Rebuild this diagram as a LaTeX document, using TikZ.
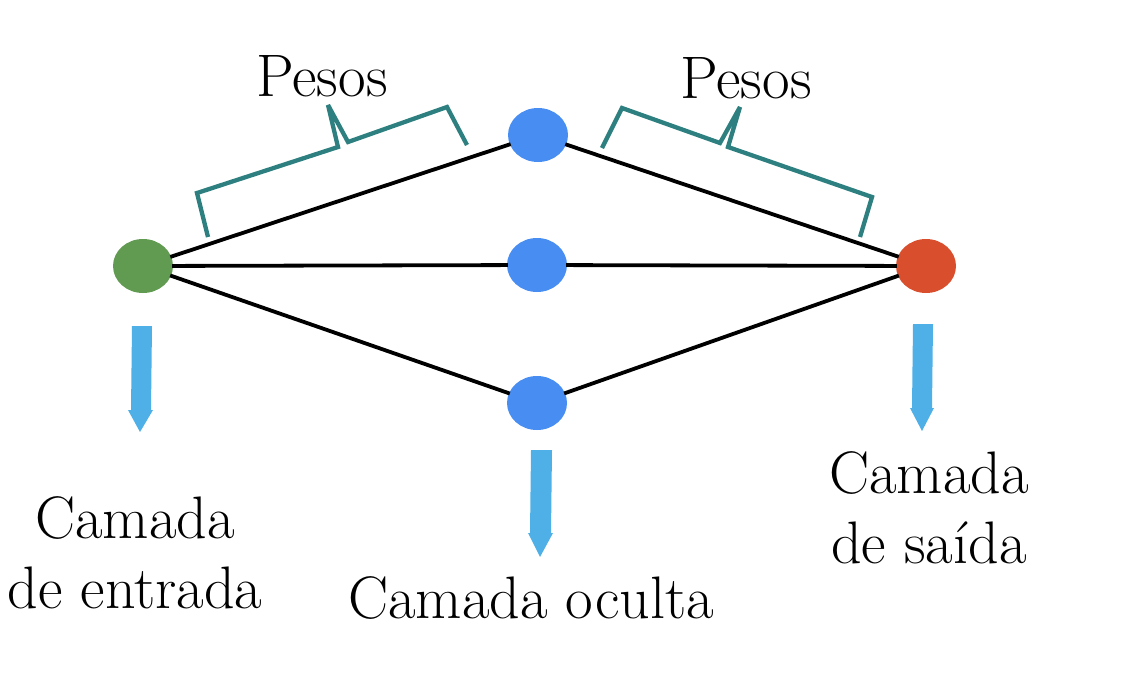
\documentclass[tikz,border=0pt]{standalone}
\usetikzlibrary{shapes.geometric}
\definecolor{ngreen}{HTML}{619A51}
\definecolor{nblue}{HTML}{478DF2}
\definecolor{nred}{HTML}{D94F2E}
\definecolor{arrblue}{HTML}{4FB0E8}
\definecolor{braceteal}{HTML}{2E8080}
\begin{document}
\begin{tikzpicture}[x=1pt,y=-1pt,
  neuron/.style={ellipse,inner sep=0pt,minimum width=60pt,minimum height=54pt,draw=none},
  conn/.style={line width=3.8pt,black,shorten <=-1pt,shorten >=-1pt},
  bracepath/.style={line width=4.3pt,braceteal,line join=miter,miter limit=1.5},
  layerarrow/.style={fill=arrblue,draw=none},
  lbl/.style={align=center,inner sep=0pt,font=\fontsize{60}{70}\selectfont}]
\useasboundingbox (0,0) rectangle (1130,697);
\node[neuron,fill=ngreen] (in) at (143,266) {};
\node[neuron,fill=nblue] (h1) at (538,135) {};
\node[neuron,fill=nblue] (h2) at (537,265) {};
\node[neuron,fill=nblue] (h3) at (537,403) {};
\node[neuron,fill=nred] (out) at (926,266) {};
\draw[conn] (in) -- (h1);
\draw[conn] (in) -- (h2);
\draw[conn] (in) -- (h3);
\draw[conn] (h1) -- (out);
\draw[conn] (h2) -- (out);
\draw[conn] (h3) -- (out);
% braces
\draw[bracepath] (208,237) -- (197,193) -- (338,147) -- (328,105) -- (348,142) -- (447,107) -- (467,145);
\draw[bracepath] (602,148) -- (622,108) -- (720,143) -- (740,107) -- (728,147) -- (872,197) -- (860,237);
% arrows
\fill[layerarrow] (132,326) -- (152,326) -- (151,410) -- (153,410) -- (140,432) -- (128,410) -- (131,410) -- cycle;
\fill[layerarrow] (531,450) -- (552,450) -- (551,533) -- (553,533) -- (540,557) -- (528,533) -- (530,533) -- cycle;
\fill[layerarrow] (913,324) -- (933,324) -- (932,408) -- (934,408) -- (922,431) -- (910,408) -- (912,408) -- cycle;
% labels
\node[lbl] (p1) at (322,76) {Pesos};
\node[lbl] (p2) at (746,78) {Pesos};
\node[lbl] (lin) at (135,553) {Camada\\de entrada};
\node[lbl] (lhid) at (531,598) {Camada oculta};
\node[lbl] (lout) at (929,508) {Camada\\de saída};
\end{tikzpicture}
\end{document}
